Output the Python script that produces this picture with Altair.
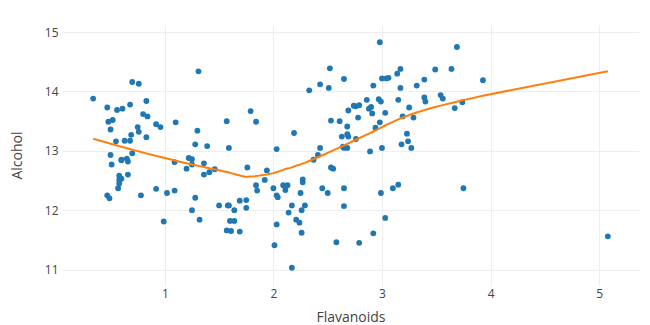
import altair as alt
import numpy as np
import pandas as pd

alcohol = [
    14.23, 13.2, 13.16, 14.37, 13.24, 14.2, 14.39, 14.06, 14.83, 13.86,
    14.1, 14.12, 13.75, 14.75, 14.38, 13.63, 14.3, 13.83, 14.19, 13.64,
    14.06, 12.93, 13.71, 12.85, 13.5, 13.05, 13.39, 13.3, 13.87, 14.02,
    13.73, 13.58, 13.68, 13.76, 13.51, 13.48, 13.28, 13.05, 13.07, 14.22,
    13.56, 13.41, 13.88, 13.24, 13.05, 14.21, 14.38, 13.9, 14.1, 13.94,
    13.05, 13.83, 13.82, 13.77, 13.74, 13.56, 14.22, 13.29, 13.72,
    12.37, 12.33, 12.64, 13.67, 12.37, 12.17, 12.37, 13.11, 12.37, 13.34,
    12.21, 12.29, 13.86, 13.49, 12.99, 11.96, 11.66, 13.03, 11.84, 12.33,
    12.7, 12.0, 12.72, 12.08, 13.05, 11.84, 12.67, 12.16, 11.65, 11.64,
    12.08, 12.08, 12.0, 12.69, 12.29, 11.62, 12.47, 11.81, 12.29, 12.37,
    12.29, 12.08, 12.6, 12.34, 11.82, 12.51, 12.42, 12.25, 12.72, 12.22,
    11.61, 11.46, 12.52, 11.76, 11.41, 12.08, 11.03, 11.82, 12.42, 12.77,
    12.0, 11.45, 11.56, 12.42, 13.05, 11.87, 12.07, 12.43, 11.79, 12.37,
    12.04,
    12.86, 12.88, 12.81, 12.7, 12.51, 12.6, 12.25, 12.53, 13.49, 12.84,
    12.93, 13.36, 13.52, 13.62, 12.25, 13.16, 13.88, 12.87, 13.32, 13.08,
    13.5, 12.79, 13.11, 13.23, 12.58, 13.17, 13.84, 12.45, 14.34, 13.48,
    12.36, 13.69, 12.85, 12.96, 13.78, 13.73, 13.45, 12.82, 13.58, 13.4,
    12.2, 12.77, 14.16, 13.71, 13.4, 13.27, 13.17, 14.13,
]

flavanoids = [
    3.06, 2.76, 3.24, 3.49, 2.69, 3.39, 2.52, 2.51, 2.98, 3.15,
    3.32, 2.43, 2.76, 3.69, 3.64, 2.91, 3.14, 3.4, 3.93, 3.03,
    3.17, 2.41, 2.88, 2.37, 2.61, 2.68, 2.94, 2.19, 2.97, 2.33,
    3.25, 3.19, 2.69, 2.74, 2.53, 2.98, 2.68, 2.43, 2.64, 3.04,
    3.29, 2.68, 3.56, 2.63, 3.0, 2.65, 3.17, 3.39, 2.92, 3.54,
    3.27, 2.99, 3.74, 2.79, 2.9, 2.78, 3.0, 3.23, 3.67,
    0.57, 1.09, 1.41, 1.79, 3.1, 1.75, 2.65, 3.18, 2.0, 1.3,
    1.28, 1.02, 2.86, 1.84, 2.89, 2.14, 1.57, 2.03, 1.32, 1.85,
    2.55, 2.26, 2.53, 1.58, 1.59, 2.21, 1.94, 1.69, 1.61, 1.69,
    1.59, 1.5, 1.25, 1.46, 2.25, 2.26, 2.27, 0.99, 2.5, 3.75,
    2.99, 2.17, 1.36, 2.11, 1.64, 1.92, 1.84, 2.03, 1.76, 2.04,
    2.92, 2.58, 2.27, 2.03, 2.01, 2.29, 2.17, 1.6, 2.09, 1.25,
    1.64, 2.79, 5.08, 2.13, 2.65, 3.03, 2.65, 3.15, 2.24, 2.45,
    1.75,
    1.25, 1.22, 1.09, 1.2, 0.58, 0.66, 0.47, 0.6, 0.48, 0.6,
    0.5, 0.5, 0.52, 0.8, 0.78, 0.55, 0.34, 0.65, 0.76, 1.39,
    1.57, 1.36, 1.28, 0.83, 0.58, 0.63, 0.83, 0.58, 1.31, 1.1,
    0.92, 0.56, 0.6, 0.7, 0.68, 0.47, 0.92, 0.66, 0.84, 0.96,
    0.49, 0.51, 0.7, 0.61, 0.75, 0.69, 0.68, 0.76,
]

x_ticks = [1, 2, 3, 4, 5]
y_ticks = [11, 12, 13, 14, 15]


def local_linear_smooth(x, y, span):
    """Local linear regression with tricube weights (loess, degree 1)."""
    x = np.asarray(x, dtype=float)
    y = np.asarray(y, dtype=float)
    n = len(x)
    q = int(np.floor(n * span))
    grid = np.unique(x)
    out = []
    for x0 in grid:
        d = np.abs(x - x0)
        h = np.sort(d)[q - 1] * 1.0000001
        u = np.clip(d / h, 0, 1)
        w = (1 - u ** 3) ** 3
        X = np.column_stack([np.ones(n), x - x0])
        sw = np.sqrt(w)
        beta = np.linalg.lstsq(X * sw[:, None], y * sw, rcond=None)[0]
        out.append(beta[0])
    return grid, np.array(out)


df = pd.DataFrame({"Flavanoids": flavanoids, "Alcohol": alcohol})
fx, fy = local_linear_smooth(flavanoids, alcohol, 0.8)
fit_df = pd.DataFrame({"Flavanoids": fx, "Alcohol": fy})

x_enc = alt.X(
    "Flavanoids:Q",
    scale=alt.Scale(domain=[0.053, 5.367], nice=False, zero=False),
    axis=alt.Axis(values=x_ticks, title="Flavanoids", labelPadding=3,
                  titleY=32, titleBaseline="middle"),
)
y_enc = alt.Y(
    "Alcohol:Q",
    scale=alt.Scale(domain=[10.74, 15.12], nice=False, zero=False),
    axis=alt.Axis(values=y_ticks, title="Alcohol", labelPadding=4,
                  titleX=-45, titleBaseline="middle"),
)

points = alt.Chart(df).mark_circle(size=34, color="#1f77b4", opacity=1).encode(
    x=x_enc, y=y_enc
)

line = (
    alt.Chart(fit_df)
    .mark_line(color="#ff7f0e", strokeWidth=2, clip=True)
    .encode(x=x_enc, y=y_enc)
)

chart = (
    alt.layer(points, line)
    .properties(
        width=577,
        height=260,
        autosize=alt.AutoSizeParams(type="none"),
        padding={"left": 62, "top": 25, "right": 11, "bottom": 40},
        background="white",
    )
    .configure_view(strokeWidth=0)
    .configure_axis(
        grid=True,
        gridColor="#eeeeee",
        gridWidth=1,
        domain=False,
        ticks=False,
        labelColor="#444444",
        labelFont="Open Sans",
        labelFontSize=12,
        titleColor="#444444",
        titleFont="Open Sans",
        titleFontSize=14,
        titleFontWeight="normal",
    )
)

chart.save("out.html", embed_options={"renderer": "svg", "actions": False})
